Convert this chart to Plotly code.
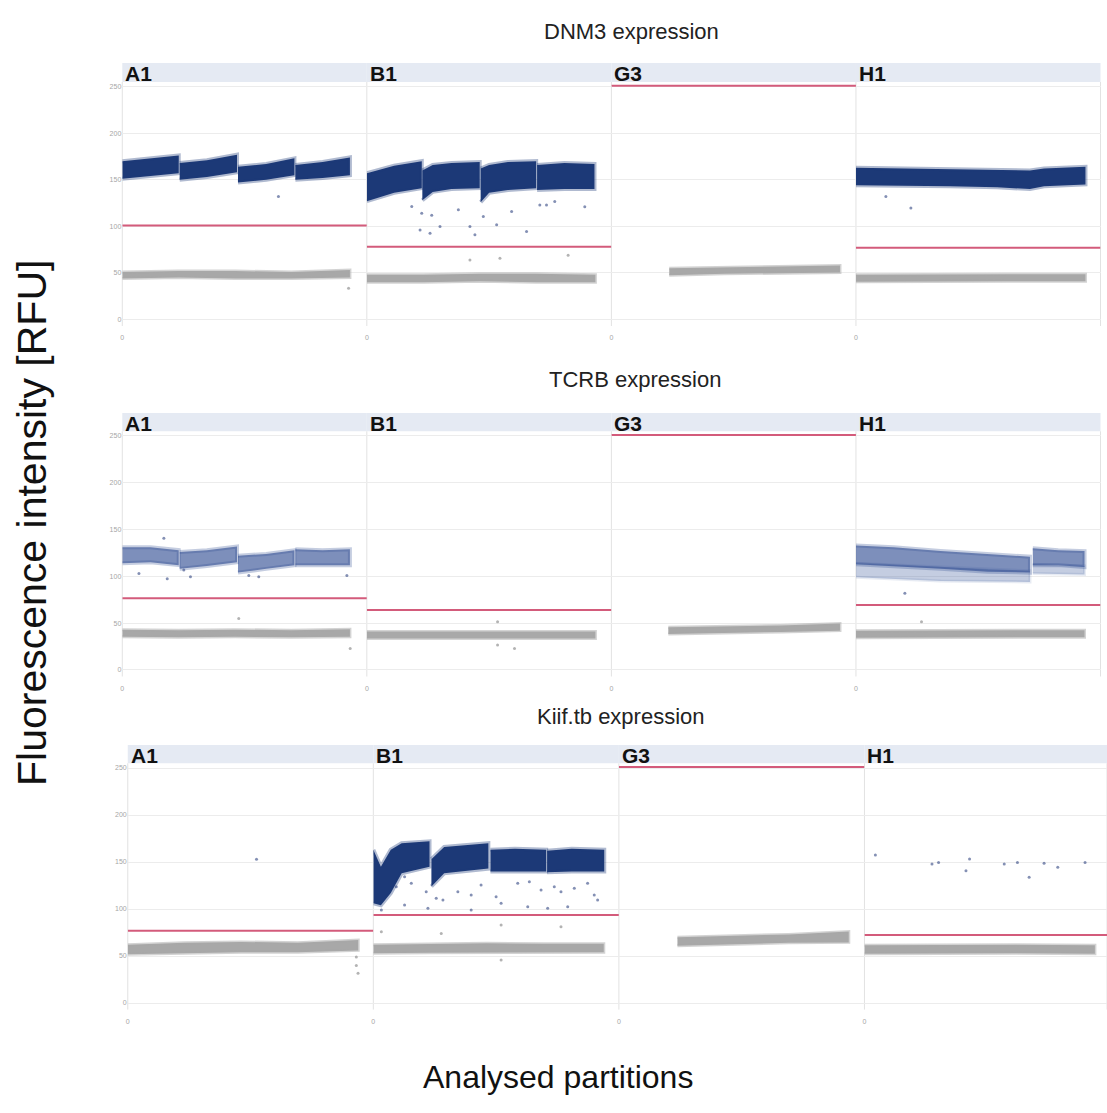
import plotly.graph_objects as go

# ---------------- data ----------------
GENE_TITLES = ["DNM3 expression", "TCRB expression", "Kiif.tb expression"]
WELLS = ["A1", "B1", "G3", "H1"]
Y_TICKS = [0, 50, 100, 150, 200, 250]
X_TICK_LABELS = ["0", ""]
X_TICK_VALUES = [0, 26000]          # partitions axis (only "0" labelled)

# threshold (RFU) per well, one list per gene
THRESH_DNM3 = [101, 78, 251, 77]
THRESH_TCRB = [76.6, 64, 251, 69.4]
THRESH_KIIF = [77, 93.6, 251, 72.3]

# positive-droplet clouds: list of segments (partition x, lower RFU, upper RFU)
POS_DNM3 = {
    "A1": [([0, 3000, 6000], [151, 154, 157], [170, 173, 176]),
           ([6100, 9000, 12200], [150, 153, 158], [168, 171, 177]),
           ([12300, 15300, 18300], [147, 150, 155], [164, 167, 173]),
           ([18400, 21300, 24200], [150, 152, 155], [166, 169, 174])],
    "B1": [([0, 2900, 5840], [127, 136, 141], [157, 165, 170]),
           ([5900, 7000, 9000, 12000], [128, 137, 140, 141], [160, 166, 168, 169]),
           ([12100, 13000, 15000, 18000], [126, 136, 139, 141], [162, 166, 169, 170]),
           ([18100, 21000, 24200], [139, 140, 140], [166, 168, 167])],
    "G3": [],
    "H1": [([0, 5000, 10000, 15000, 18500, 20000, 24400],
            [144, 143, 143, 142, 140, 143, 145],
            [163, 162, 161, 161, 160, 162, 164])],
}
POS_TCRB = {
    "A1": [([0, 3000, 6000], [114, 115, 112], [131, 131, 128]),
           ([6100, 9000, 12200], [108, 111, 115], [126, 128, 132]),
           ([12300, 15300, 18300], [104, 108, 112], [122, 124, 128]),
           ([18400, 21300, 24200], [112, 112, 112], [129, 128, 129])],
    "B1": [],
    "G3": [],
    "H1": [([0, 4000, 9000, 14000, 18500], [113, 111, 108, 105, 104], [133, 131, 127, 124, 121]),
           ([18800, 21500, 24300], [112, 112, 110], [130, 128, 127])],
}
POS_KIIF = {
    "A1": [],
    "B1": [([0, 800, 1850, 3000, 5950], [106, 104, 117, 138, 145], [163, 145, 163, 170, 172]),
           ([6150, 7500, 12180], [124, 138, 143], [153, 166, 170]),
           ([12400, 15000, 18300], [140, 140, 140], [163, 164, 163]),
           ([18400, 21000, 24450], [139, 140, 140], [162, 164, 163])],
    "G3": [],
    "H1": [],
}

# sparse lower tails of positive clouds (lighter)
SPARSE_TCRB_H1 = [([0, 9000, 18500], [99, 95, 94], [114, 110, 106]),
                  ([18800, 24300], [103, 102], [113, 111])]

# negative-droplet clouds: (partition x, lower RFU, upper RFU)
NEG_DNM3 = {
    "A1": ([0, 6000, 12000, 18000, 24200], [44, 45, 44, 44, 45], [51, 52, 52, 51, 53]),
    "B1": ([0, 6000, 12000, 18000, 24300], [40, 40, 41, 40, 40], [48, 48, 49, 49, 48]),
    "G3": ([6150, 12000, 18000, 24300], [47.5, 49, 50, 50.5], [55, 56, 57, 58]),
    "H1": ([0, 8000, 16000, 24400], [40.5, 40.5, 41, 41], [48, 48.5, 48.5, 48.5]),
}
NEG_TCRB = {
    "A1": ([0, 6000, 12000, 18000, 24200], [35.5, 35, 35.5, 35, 35.5], [43, 42.5, 43, 42.5, 43.5]),
    "B1": ([0, 6000, 12000, 18000, 24300], [33.5, 33.5, 34, 33.5, 33.5], [41, 41, 41.5, 41, 41]),
    "G3": ([6050, 12000, 18000, 24300], [38.5, 39.5, 40.5, 42], [45.5, 46.5, 47.5, 49.5]),
    "H1": ([0, 8000, 16000, 24300], [34.5, 34.5, 35, 35], [42, 42, 42.5, 42.5]),
}
NEG_KIIF = {
    "A1": ([0, 6000, 12000, 18000, 24400], [52, 53, 54, 54, 56], [62, 64, 65, 64, 67]),
    "B1": ([0, 6000, 12000, 18000, 24400], [53, 53.5, 54, 54, 54], [62, 63, 63.5, 63, 63]),
    "G3": ([6200, 12000, 18000, 24340], [61, 62.5, 64, 64.5], [70, 71.5, 73, 76]),
    "H1": ([0, 8000, 16000, 24400], [52.5, 52.5, 53, 52.5], [61.5, 62, 62, 61.5]),
}

# isolated droplets: (x list, y list)
PTS_POS_DNM3 = {
    "A1": ([16600], [132]),
    "B1": ([4776, 5837, 6898, 5660, 6720, 7780, 9730, 10960, 11490, 12380, 13800, 15390,
            16980, 18390, 19100, 19980, 23170],
           [121.3, 114, 112, 96, 92.6, 99.8, 117.7, 99.8, 90.9, 110.5, 101.6, 116,
            94.4, 123, 123, 126.7, 121]),
    "G3": ([], []),
    "H1": ([3180, 5840], [132, 119.6]),
}
PTS_NEG_DNM3 = {
    "A1": ([24060], [33.5]),
    "B1": ([10960, 14150, 21400], [64, 65.8, 69]),
    "G3": ([], []),
    "H1": ([], []),
}
PTS_POS_TCRB = {
    "A1": ([4420, 1770, 4780, 6540, 7250, 13450, 14510, 23880],
           [140.7, 103, 97.5, 106.8, 99.7, 101, 99.7, 101]),
    "B1": ([], []),
    "G3": ([], []),
    "H1": ([5200], [82]),
}
PTS_NEG_TCRB = {
    "A1": ([12380, 24230], [55, 23]),
    "B1": ([13900, 15700, 13900], [51.6, 23, 26.7]),
    "G3": ([], []),
    "H1": ([6970], [51.6]),
}
PTS_POS_KIIF = {
    "A1": ([13630], [152.9]),
    "B1": ([2430, 3310, 4020, 5600, 6660, 7370, 8950, 10360, 11410, 13000, 15290, 16520,
            17760, 19160, 19870, 21280, 22690, 23390, 23750, 3310, 5780, 10360, 13530,
            16350, 18460, 20580, 850],
           [123.7, 134.4, 127.3, 118.4, 111.4, 109.6, 118.4, 114.9, 125.5, 113.1, 127.3, 129,
            120.2, 123.7, 118.4, 122, 127.3, 114.9, 109.6, 104.3, 100.7, 98.9, 106,
            102.4, 100.7, 102.4, 98.9]),
    "G3": ([], []),
    "H1": ([1160, 7150, 7850, 11130, 10750, 14800, 16200, 17440, 19020, 20470, 23360],
           [157.4, 147.9, 149.6, 153.2, 140.8, 147.9, 149.6, 133.7, 148.6, 144.4, 149.6]),
}
PTS_NEG_KIIF = {
    "A1": ([24200, 24200, 24380], [49, 40, 31.6]),
    "B1": ([850, 7190, 13530, 19870, 13530], [75.9, 74, 83, 81, 45.7]),
    "G3": ([], []),
    "H1": ([], []),
}

POS = [POS_DNM3, POS_TCRB, POS_KIIF]
NEG = [NEG_DNM3, NEG_TCRB, NEG_KIIF]
PTS_POS = [PTS_POS_DNM3, PTS_POS_TCRB, PTS_POS_KIIF]
PTS_NEG = [PTS_NEG_DNM3, PTS_NEG_TCRB, PTS_NEG_KIIF]
THRESH = [THRESH_DNM3, THRESH_TCRB, THRESH_KIIF]

# ---------------- layout geometry (pixels) ----------------
W, H = 1107, 1113
X_FULL = 26000
Y_RANGE = [-7, 255]
ROW_PLOT_TOP = [82, 431.3, 763.3]
ROW_PLOT_BOT = [326, 676.5, 1009.6]
ROW_STRIP_TOP = [63, 413, 745]
COL_LEFT = [[120.5, 365.5, 610.5, 855.5], [120.5, 365.5, 610.5, 855.5], [126, 372, 618, 864]]
COL_W = [245, 245, 246]
ROW_TITLE_Y = [31, 379, 716]
ROW_TITLE_X = [631, 634, 620]

POS_COLOR = "#1c3977"
POS_EDGE = "rgba(28,57,119,0.35)"
POS_SPARSE = "rgba(45,75,145,0.62)"
NEG_COLOR = "#a8a8a8"
NEG_EDGE = "rgba(168,168,168,0.5)"
THR_COLOR = "#d35b7b"
GRID_V = "#e2e2e2"
FONT = "Liberation Sans, Arial, sans-serif"

fig = go.Figure()
layout = {}
shapes = []
annotations = []


def band(xs, lo, hi, fill, edge, ew, xa, ya):
    fig.add_trace(go.Scatter(
        x=list(xs) + list(xs)[::-1], y=list(hi) + list(lo)[::-1],
        fill="toself", fillcolor=fill, mode="lines",
        line=dict(color=edge, width=ew),
        xaxis=xa, yaxis=ya, hoverinfo="skip", showlegend=False))


k = 0
for r in range(3):
    for c, well in enumerate(WELLS):
        k += 1
        xa = "x" if k == 1 else f"x{k}"
        ya = "y" if k == 1 else f"y{k}"
        left = COL_LEFT[r][c]
        right = min(left + COL_W[r], W)
        xmax = X_FULL * (right - left) / COL_W[r]
        xd = [left / W, right / W]
        yd = [1 - ROW_PLOT_BOT[r] / H, 1 - ROW_PLOT_TOP[r] / H]

        layout["xaxis" if k == 1 else f"xaxis{k}"] = dict(
            domain=xd, range=[0, xmax], anchor=ya,
            tickvals=X_TICK_VALUES, ticktext=X_TICK_LABELS,
            showgrid=False, zeroline=False, ticks="", showline=False,
            ticklabelstandoff=6,
            tickfont=dict(size=7, color="#a6a6a6", family=FONT))
        layout["yaxis" if k == 1 else f"yaxis{k}"] = dict(
            domain=yd, range=Y_RANGE, anchor=xa,
            tickvals=Y_TICKS, showticklabels=(c == 0),
            showgrid=True, gridcolor="#ececec", gridwidth=1, zeroline=False,
            ticks="", showline=False,
            tickfont=dict(size=7, color="#a6a6a6", family=FONT))

        # vertical panel border lines (x = 0 gridline)
        shapes.append(dict(type="line", xref="paper", yref="paper",
                           x0=xd[0], x1=xd[0], y0=yd[0], y1=yd[1],
                           line=dict(color=GRID_V, width=1), layer="below"))
        if c == 3:
            shapes.append(dict(type="line", xref="paper", yref="paper",
                               x0=xd[1], x1=xd[1], y0=yd[0], y1=yd[1],
                               line=dict(color=GRID_V, width=1), layer="below"))

        # strip header
        shapes.append(dict(type="rect", xref="paper", yref="paper",
                           x0=xd[0], x1=xd[1],
                           y0=1 - ROW_PLOT_TOP[r] / H, y1=1 - ROW_STRIP_TOP[r] / H,
                           fillcolor="#e5eaf3", line=dict(width=0), layer="below"))
        annotations.append(dict(text=f"<b>{well}</b>", xref="paper", yref="paper",
                                x=(left + 1) / W, y=1 - (ROW_STRIP_TOP[r] + ROW_PLOT_TOP[r]) / 2 / H - 1.5 / H,
                                xanchor="left", yanchor="middle", showarrow=False,
                                font=dict(size=21, color="#111111", family=FONT)))

        # negative cloud
        nx, nlo, nhi = NEG[r][well]
        band(nx, nlo, nhi, NEG_COLOR, NEG_EDGE, 3, xa, ya)
        # sparse tail
        if r == 1 and well == "H1":
            for sx, slo, shi in SPARSE_TCRB_H1:
                band(sx, slo, shi, "rgba(60,90,155,0.30)", "rgba(60,90,155,0.12)", 3, xa, ya)
        # positive clouds
        for sx, slo, shi in POS[r][well]:
            if r == 1:
                band(sx, slo, shi, POS_SPARSE, "rgba(45,75,145,0.28)", 4, xa, ya)
            else:
                band(sx, slo, shi, POS_COLOR, POS_EDGE, 4, xa, ya)
        # isolated droplets
        px, py = PTS_POS[r][well]
        if px:
            fig.add_trace(go.Scatter(x=px, y=py, mode="markers", xaxis=xa, yaxis=ya,
                                     marker=dict(size=3, color="rgba(50,70,130,0.6)"),
                                     hoverinfo="skip", showlegend=False))
        qx, qy = PTS_NEG[r][well]
        if qx:
            fig.add_trace(go.Scatter(x=qx, y=qy, mode="markers", xaxis=xa, yaxis=ya,
                                     marker=dict(size=3, color="rgba(160,160,160,0.8)"),
                                     hoverinfo="skip", showlegend=False))
        # threshold line
        t = THRESH[r][c]
        fig.add_trace(go.Scatter(x=[0, xmax], y=[t, t], mode="lines", xaxis=xa, yaxis=ya,
                                 line=dict(color=THR_COLOR, width=2), cliponaxis=False,
                                 hoverinfo="skip", showlegend=False))

    annotations.append(dict(text=GENE_TITLES[r], xref="paper", yref="paper",
                            x=ROW_TITLE_X[r] / W, y=1 - ROW_TITLE_Y[r] / H,
                            xanchor="center", yanchor="middle", showarrow=False,
                            font=dict(size=22, color="#222222", family=FONT)))

annotations.append(dict(text="Fluorescence intensity [RFU]", xref="paper", yref="paper",
                        x=30 / W, y=1 - 523 / H, textangle=-90,
                        xanchor="center", yanchor="middle", showarrow=False,
                        font=dict(size=41, color="#111111", family=FONT)))
annotations.append(dict(text="Analysed partitions", xref="paper", yref="paper",
                        x=557 / W, y=1 - 1077 / H,
                        xanchor="center", yanchor="middle", showarrow=False,
                        font=dict(size=32, color="#111111", family=FONT)))

fig.update_layout(**layout)
fig.update_layout(width=W, height=H, margin=dict(l=0, r=0, t=0, b=0),
                  paper_bgcolor="white", plot_bgcolor="white",
                  shapes=shapes, annotations=annotations, showlegend=False)

fig.write_html("out.html")
